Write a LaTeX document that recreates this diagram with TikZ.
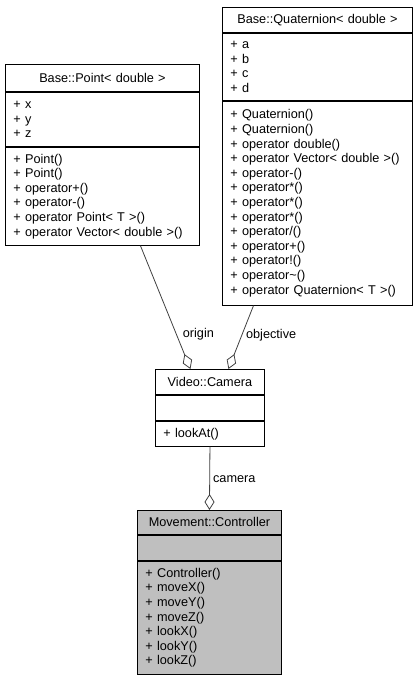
\documentclass[tikz,border=0pt]{standalone}
\usepackage{fontspec}
\setmainfont{Liberation Sans}
\usetikzlibrary{positioning,arrows.meta}
\definecolor{edgegray}{RGB}{64,64,64}
\definecolor{ctrlgray}{RGB}{191,191,191}

\begin{document}
\begin{tikzpicture}[x=1pt,y=-1pt,
  box/.style={draw, fill=white, line width=0.9pt, inner xsep=8pt, inner ysep=0pt, align=left, font=\fontsize{12.7}{14.6}\selectfont},
  title/.style={box, align=center},
  ctrl/.style={fill=ctrlgray},
  aggr/.style={draw=edgegray, line width=0.8pt, -{Diamond[open, length=16pt, width=10pt]}},
  lbl/.style={font=\fontsize{12.7}{14.6}\selectfont, right, inner sep=3pt}]
\useasboundingbox (0,0) rectangle (420,680);
% Base::Point
\node[title, text width=178pt, minimum height=27pt, anchor=north west] (pointT) at (5,64) {Base::Point< double >};
\node[box, text width=178pt, minimum height=54pt, below=0pt of pointT] (pointA) {+ x\\+ y\\+ z};
\node[box, text width=178pt, minimum height=98pt, below=0pt of pointA] (pointO) {+ Point()\\+ Point()\\+ operator+()\\+ operator-()\\+ operator Point< T >()\\+ operator Vector< double >()};
% Base::Quaternion
\node[title, text width=174pt, minimum height=25pt, anchor=north west] (quatT) at (222,7) {Base::Quaternion< double >};
\node[box, text width=174pt, minimum height=67pt, below=0pt of quatT] (quatA) {+ a\\+ b\\+ c\\+ d};
\node[box, text width=174pt, minimum height=204pt, below=0pt of quatA] (quatO) {+ Quaternion()\\+ Quaternion()\\+ operator double()\\+ operator Vector< double >()\\+ operator-()\\+ operator*()\\+ operator*()\\+ operator*()\\+ operator/()\\+ operator+()\\+ operator!()\\+ operator\textasciitilde()\\+ operator Quaternion< T >()};
% Video::Camera
\node[title, text width=93pt, minimum height=25pt, anchor=north west] (camT) at (155,369) {Video::Camera};
\node[box, text width=93pt, minimum height=25pt, below=0pt of camT] (camA) {};
\node[box, text width=93pt, minimum height=25pt, below=0pt of camA] (camO) {+ lookAt()};
% Movement::Controller
\node[title, ctrl, text width=128pt, minimum height=24pt, anchor=north west] (ctrlT) at (137,510) {Movement::Controller};
\node[box, ctrl, text width=128pt, minimum height=25pt, below=0pt of ctrlT] (ctrlA) {};
\node[box, ctrl, text width=128pt, minimum height=113pt, below=0pt of ctrlA] (ctrlO) {+ Controller()\\+ moveX()\\+ moveY()\\+ moveZ()\\+ lookX()\\+ lookY()\\+ lookZ()};
% aggregations
\draw[aggr] ([xshift=38pt]pointO.south) -- ([xshift=-19.5pt]camT.north) node[lbl, pos=0.72, xshift=3pt] {origin};
\draw[aggr] ([xshift=-64pt]quatO.south) -- ([xshift=18.5pt]camT.north) node[lbl, pos=0.47, xshift=1pt] {objective};
\draw[aggr] (camO.south) -- (ctrlT.north) node[lbl, pos=0.52] {camera};
\end{tikzpicture}
\end{document}
